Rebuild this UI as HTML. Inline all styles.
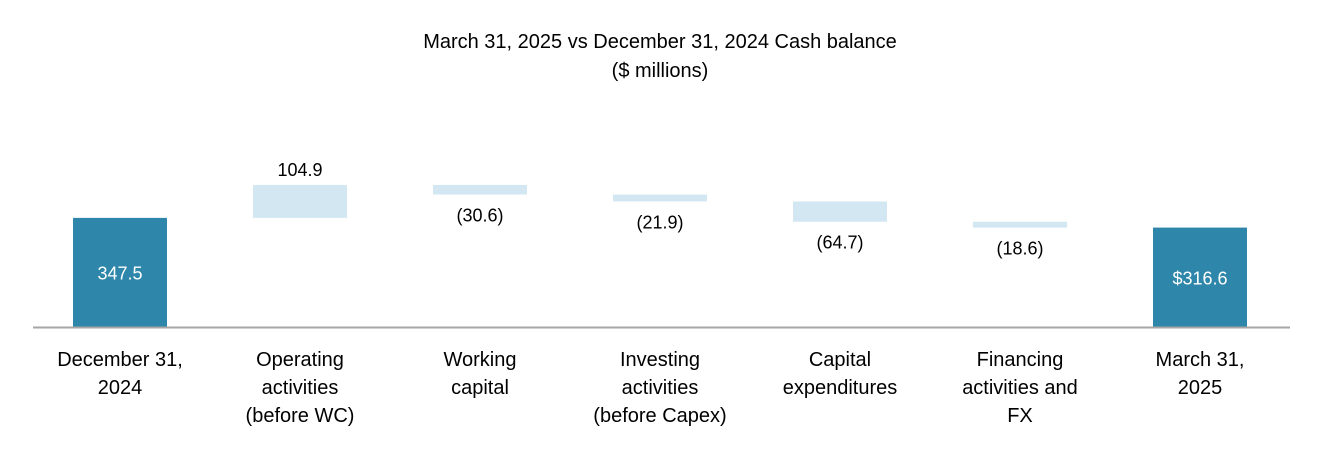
<!DOCTYPE html>
<html><head><meta charset="utf-8"><style>
body{margin:0;background:#fff;font-family:"Liberation Sans",Arial,sans-serif}
svg text{font-family:"Liberation Sans",Arial,sans-serif}
</style></head><body>
<svg id="chart" width="1320" height="460" viewBox="0 0 1320 460">
<text x="660" y="48" text-anchor="middle" font-size="20" fill="#000">March 31, 2025 vs December 31, 2024 Cash  balance</text>
<text x="660" y="77" text-anchor="middle" font-size="20" fill="#000">($ millions)</text>
<g id="bars"></g>
<line x1="33" y1="327.5" x2="1290" y2="327.5" stroke="#a6a6a6" stroke-width="2"/>
<g id="labels"></g>
</svg>
<script>
const categories=[["December 31,","2024"],["Operating","activities","(before WC)"],["Working","capital"],["Investing","activities","(before Capex)"],["Capital","expenditures"],["Financing","activities and","FX"],["March 31,","2025"]];
const values=[347.5,104.9,-30.6,-21.9,-64.7,-18.6,316.6];
const valueLabels=["347.5","104.9","(30.6)","(21.9)","(64.7)","(18.6)","$316.6"];
const isTotal=[true,false,false,false,false,false,true];
const base=327, k=0.314, x0=120, step=180, bw=94;
const y=v=>base-v*k;
const ns="http://www.w3.org/2000/svg";
const bars=document.getElementById('bars'), labs=document.getElementById('labels');
let cum=0;
values.forEach((v,i)=>{
  let a,b;
  if(isTotal[i]){a=0;b=v;cum=v;}else{a=cum;b=cum+v;cum=b;}
  const top=y(Math.max(a,b)), bot=y(Math.min(a,b));
  const cx=x0+i*step;
  const r=document.createElementNS(ns,'rect');
  
  
  r.setAttribute('x',cx-bw/2);r.setAttribute('y',top);r.setAttribute('width',bw);r.setAttribute('height',bot-top);
  r.setAttribute('fill',isTotal[i]?'#2e86ab':'#d2e7f2');
  bars.appendChild(r);
  const t=document.createElementNS(ns,'text');
  
  
  t.setAttribute('x',cx);t.setAttribute('text-anchor','middle');t.setAttribute('font-size','18');
  if(isTotal[i]){t.setAttribute('y',(top+bot)/2+7);t.setAttribute('fill','#fff');}
  else if(v>0){t.setAttribute('y',top-9);t.setAttribute('fill','#000');}
  else{t.setAttribute('y',bot+27);t.setAttribute('fill','#000');}
  t.textContent=valueLabels[i];
  labs.appendChild(t);
  categories[i].forEach((line,j)=>{
    const c=document.createElementNS(ns,'text');
    
    
    c.setAttribute('x',cx);c.setAttribute('y',366+j*28);c.setAttribute('text-anchor','middle');c.setAttribute('font-size','20');c.setAttribute('fill','#000');
    c.textContent=line;
    labs.appendChild(c);
  });
});
</script>
</body></html>
